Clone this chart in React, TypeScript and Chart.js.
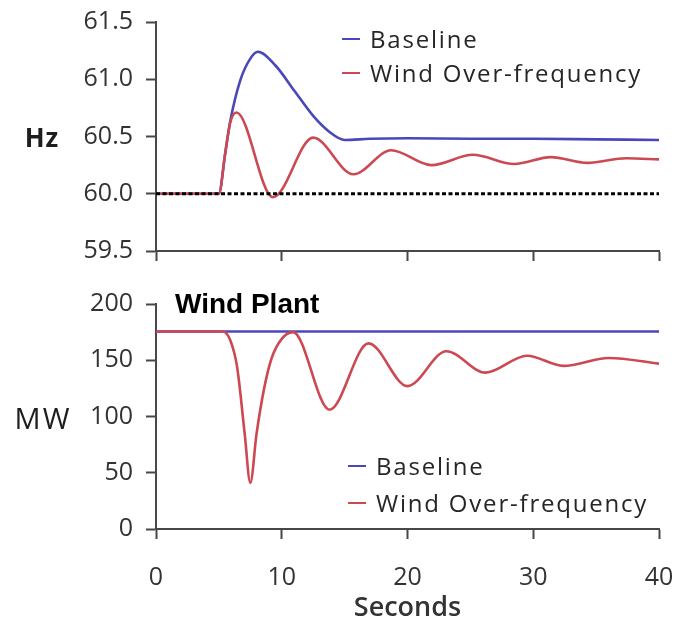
import React, { useEffect, useRef } from 'react';
import { Chart, registerables } from 'chart.js';

Chart.register(...registerables);

// ---------- data ----------
const X_RANGE = [0, 40];
const X_STEP = 10;
const HZ_RANGE = [59.5, 61.5];
const HZ_STEP = 0.5;
const MW_RANGE = [0, 200];
const MW_STEP = 50;
const NOMINAL_HZ = 60;

const LEGEND_LABELS = ['Baseline', 'Wind Over-frequency'];

const HZ_BASE_T = [0, 5.0, 5.5, 5.9, 6.7, 7.5, 8.1, 9.5, 11.0, 12.5, 13.8, 15.0, 17, 20, 25, 30, 35, 40];
const HZ_BASE_V = [60.0, 60.0, 60.35, 60.63, 60.99, 61.18, 61.24, 61.12, 60.9, 60.68, 60.54, 60.47, 60.48, 60.485, 60.48, 60.48, 60.475, 60.47];

const HZ_WIND_T = [0, 5.0, 5.5, 5.9, 6.4, 9.3, 12.5, 15.7, 18.7, 21.9, 25.2, 28.5, 31.4, 34.3, 37.4, 40];
const HZ_WIND_V = [60.0, 60.0, 60.35, 60.62, 60.71, 59.97, 60.49, 60.17, 60.38, 60.25, 60.34, 60.26, 60.32, 60.27, 60.31, 60.3];

const MW_BASE_T = [0, 40];
const MW_BASE_V = [175.5, 175.5];

const MW_WIND_T = [0, 5.3, 5.9, 6.45, 7.05, 7.5, 8.0, 8.6, 9.2, 10.0, 10.9, 13.8, 16.9, 20.0, 23.1, 26.2, 29.5, 32.4, 36.0, 40];
const MW_WIND_V = [175.5, 175.5, 168, 144, 85, 41, 85, 125, 152, 169, 175, 106, 165, 127, 158, 139, 154, 145, 152, 147];

// ---------- styling ----------
const FONT = "'Open Sans', 'Noto Sans', sans-serif";
const BLUE = '#4a48b8';
const RED = '#cc4852';
const AXIS = '#474747';
const TICK_TEXT = '#333333';

const pts = (t: number[], v: number[]) => t.map((x, i) => ({ x, y: v[i] }));

type OverlayCfg = {
  id: string;
  side: string;
  sideWeight: string;
  sideSize: number;
  sideX: number;
  sideY: number;
  sideSpacing: number;
  legX: number;
  legY: number;
  legGap: number;
  title?: string;
  titleX?: number;
  titleY?: number;
};

function makeOverlay(cfg: OverlayCfg) {
  return {
    id: cfg.id,
    afterDraw(chart: any) {
      const ctx = chart.ctx as CanvasRenderingContext2D;
      ctx.save();
      ctx.fillStyle = '#1e1e1e';
      ctx.textAlign = 'center';
      ctx.textBaseline = 'alphabetic';
      ctx.font = `${cfg.sideWeight} ${cfg.sideSize}px ${FONT}`;
      (ctx as any).letterSpacing = `${cfg.sideSpacing}px`;
      ctx.fillText(cfg.side, cfg.sideX, cfg.sideY);
      (ctx as any).letterSpacing = '0px';

      if (cfg.title) {
        ctx.textAlign = 'left';
        ctx.fillStyle = '#000';
        ctx.font = `bold 28px 'Liberation Sans', Arial, sans-serif`;
        ctx.fillText(cfg.title, cfg.titleX || 0, cfg.titleY || 0);
      }

      const items = chart.data.datasets.filter((d: any) => d.inLegend);
      items.forEach((d: any, i: number) => {
        const y = cfg.legY + i * cfg.legGap;
        ctx.strokeStyle = d.borderColor;
        ctx.lineWidth = 2;
        ctx.beginPath();
        ctx.moveTo(cfg.legX, y - 9);
        ctx.lineTo(cfg.legX + 18, y - 9);
        ctx.stroke();
        ctx.fillStyle = '#262626';
        ctx.textAlign = 'left';
        ctx.font = `400 24px ${FONT}`;
        (ctx as any).letterSpacing = '1.8px';
        ctx.fillText(d.label, cfg.legX + 28, y);
        (ctx as any).letterSpacing = '0px';
      });
      ctx.restore();
    },
  };
}

function baseScales(yRange: number[], yStep: number, yFmt: (v: number) => string, xHeight: number, showX: boolean) {
  return {
    x: {
      type: 'linear',
      min: X_RANGE[0],
      max: X_RANGE[1],
      ticks: {
        stepSize: X_STEP,
        display: showX,
        color: TICK_TEXT,
        font: { family: FONT, size: 25, lineHeight: 1 },
        padding: 26,
        maxRotation: 0,
      },
      grid: { drawOnChartArea: false, drawTicks: true, tickLength: 10, tickColor: AXIS, tickWidth: 2 },
      border: { display: true, color: AXIS, width: 2 },
      title: showX
        ? { display: true, text: 'Seconds', color: TICK_TEXT, font: { family: FONT, size: 27, weight: '600', lineHeight: 1 }, padding: { top: 0, bottom: 0 } }
        : { display: false },
      afterFit: (s: any) => { s.height = xHeight; s.paddingLeft = 0; s.paddingRight = 0; },
    },
    y: {
      type: 'linear',
      min: yRange[0],
      max: yRange[1],
      ticks: {
        stepSize: yStep,
        color: TICK_TEXT,
        font: { family: FONT, size: 25, lineHeight: 1 },
        padding: 13,
        callback: (v: any) => yFmt(Number(v)),
      },
      grid: { drawOnChartArea: false, drawTicks: true, tickLength: 10, tickColor: AXIS, tickWidth: 2 },
      border: { display: true, color: AXIS, width: 2 },
      afterFit: (s: any) => { s.width = 156; s.paddingTop = 0; s.paddingBottom = 0; },
    },
  };
}

function useChart(ref: React.RefObject<HTMLCanvasElement>, build: () => any) {
  useEffect(() => {
    if (!ref.current) return;
    const chart = new Chart(ref.current, build());
    return () => chart.destroy();
  }, []);
}

export default function App() {
  const topRef = useRef<HTMLCanvasElement>(null);
  const botRef = useRef<HTMLCanvasElement>(null);

  useChart(topRef, () => ({
    type: 'line',
    data: {
      datasets: [
        { label: LEGEND_LABELS[0], inLegend: true, data: pts(HZ_BASE_T, HZ_BASE_V), borderColor: BLUE, borderWidth: 2.6, pointRadius: 0, cubicInterpolationMode: 'monotone', order: 3 },
        { label: LEGEND_LABELS[1], inLegend: true, data: pts(HZ_WIND_T, HZ_WIND_V), borderColor: RED, borderWidth: 2.6, pointRadius: 0, cubicInterpolationMode: 'monotone', order: 2 },
        { label: 'nominal', inLegend: false, data: pts(X_RANGE, [NOMINAL_HZ, NOMINAL_HZ]), borderColor: '#000', borderWidth: 3, borderDash: [4, 2.5], pointRadius: 0, order: 1 },
      ],
    },
    options: {
      responsive: false,
      animation: false,
      layout: { padding: { left: 0, right: 18, top: 22, bottom: 0 } },
      plugins: { legend: { display: false }, tooltip: { enabled: false } },
      scales: baseScales(HZ_RANGE, HZ_STEP, (v) => v.toFixed(1), 39, false),
    },
    plugins: [makeOverlay({ id: 'ovTop', side: 'Hz', sideWeight: '700', sideSize: 26, sideX: 42, sideY: 147, sideSpacing: 1, legX: 342, legY: 48, legGap: 34 })],
  }));

  useChart(botRef, () => ({
    type: 'line',
    data: {
      datasets: [
        { label: LEGEND_LABELS[0], inLegend: true, data: pts(MW_BASE_T, MW_BASE_V), borderColor: BLUE, borderWidth: 2.6, pointRadius: 0, order: 3 },
        { label: LEGEND_LABELS[1], inLegend: true, data: pts(MW_WIND_T, MW_WIND_V), borderColor: RED, borderWidth: 2.6, pointRadius: 0, cubicInterpolationMode: 'monotone', order: 2 },
      ],
    },
    options: {
      responsive: false,
      animation: false,
      layout: { padding: { left: 0, right: 18, top: 14, bottom: 0 } },
      plugins: { legend: { display: false }, tooltip: { enabled: false } },
      scales: baseScales(MW_RANGE, MW_STEP, (v) => String(v), 93, true),
    },
    plugins: [makeOverlay({ id: 'ovBot', side: 'MW', sideWeight: '500', sideSize: 29, sideX: 43, sideY: 139, sideSpacing: 2, legX: 348, legY: 185, legGap: 37, title: 'Wind Plant', titleX: 175, titleY: 23 })],
  }));

  return (
    <div style={{ position: 'absolute', left: 0, top: 0, width: 677, height: 622, background: '#fff' }}>
      <canvas ref={topRef} width={677} height={290} style={{ position: 'absolute', left: 0, top: 0 }} />
      <canvas ref={botRef} width={677} height={332} style={{ position: 'absolute', left: 0, top: 290 }} />
    </div>
  );
}
